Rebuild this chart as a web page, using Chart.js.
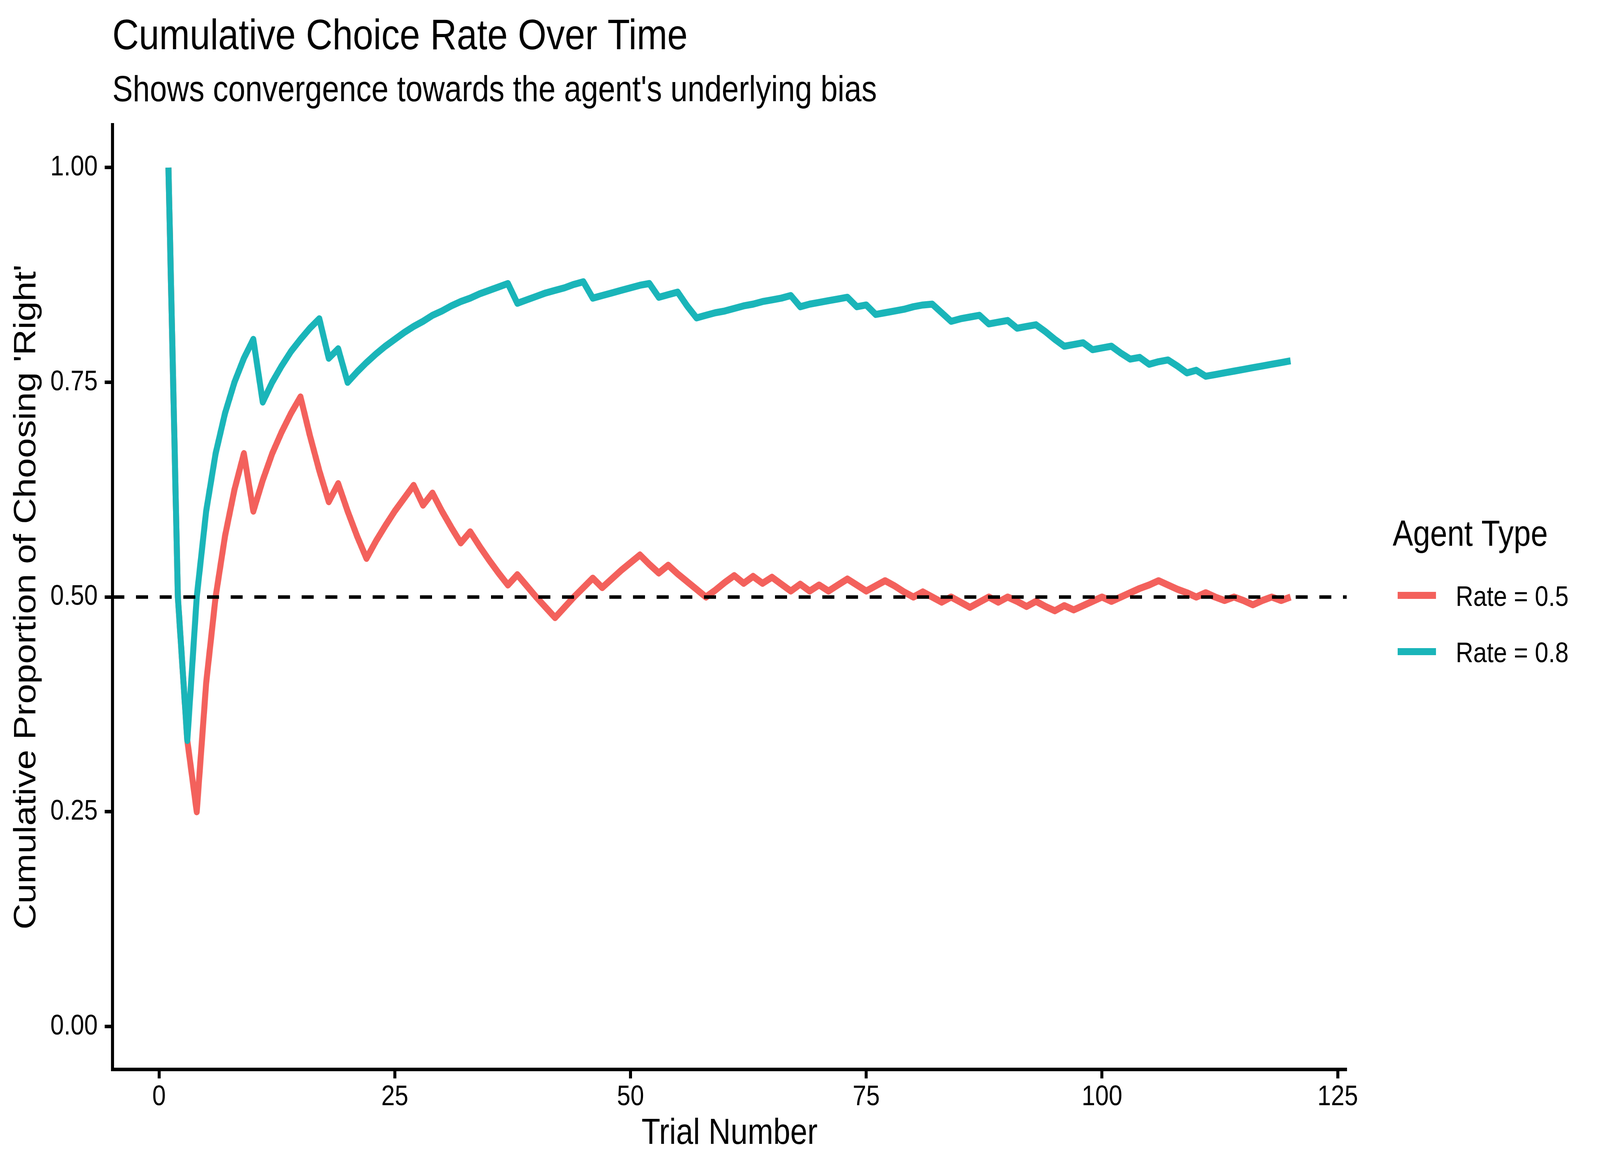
<!DOCTYPE html>
<html>
<head>
<meta charset="utf-8">
<script src="https://cdn.jsdelivr.net/npm/chart.js@4.4.1/dist/chart.umd.min.js"></script>
<style>
  html, body { margin: 0; padding: 0; background: #fff; overflow: hidden; }
  canvas { display: block; }
</style>
</head>
<body>
<!-- drawing buffer stays 4800x3000; the inline size makes it fill the window exactly -->
<canvas id="choiceChart" width="4800" height="3000" style="width:100vw;height:100vh"></canvas>
<script>
// Trial numbers (x axis)
const trials = [
  1, 2, 3, 4, 5, 6, 7, 8, 9, 10, 11, 12, 13, 14, 15, 16, 17, 18, 19, 20,
  21, 22, 23, 24, 25, 26, 27, 28, 29, 30, 31, 32, 33, 34, 35, 36, 37, 38, 39, 40,
  41, 42, 43, 44, 45, 46, 47, 48, 49, 50, 51, 52, 53, 54, 55, 56, 57, 58, 59, 60,
  61, 62, 63, 64, 65, 66, 67, 68, 69, 70, 71, 72, 73, 74, 75, 76, 77, 78, 79, 80,
  81, 82, 83, 84, 85, 86, 87, 88, 89, 90, 91, 92, 93, 94, 95, 96, 97, 98, 99, 100,
  101, 102, 103, 104, 105, 106, 107, 108, 109, 110, 111, 112, 113, 114, 115, 116, 117, 118, 119, 120
];

// Cumulative proportion of 'Right', agent with rate 0.5
const rate05 = [
  1.000, 0.500, 0.333, 0.250, 0.400, 0.500, 0.571, 0.625, 0.667, 0.600,
  0.636, 0.667, 0.692, 0.714, 0.733, 0.688, 0.647, 0.611, 0.632, 0.600,
  0.571, 0.545, 0.565, 0.583, 0.600, 0.615, 0.630, 0.607, 0.621, 0.600,
  0.581, 0.563, 0.576, 0.559, 0.543, 0.528, 0.514, 0.526, 0.513, 0.500,
  0.488, 0.476, 0.488, 0.500, 0.511, 0.522, 0.511, 0.521, 0.531, 0.540,
  0.549, 0.538, 0.528, 0.537, 0.527, 0.518, 0.509, 0.500, 0.508, 0.517,
  0.525, 0.516, 0.524, 0.516, 0.523, 0.515, 0.507, 0.515, 0.507, 0.514,
  0.507, 0.514, 0.521, 0.514, 0.507, 0.513, 0.519, 0.513, 0.506, 0.500,
  0.506, 0.500, 0.494, 0.500, 0.494, 0.488, 0.494, 0.500, 0.494, 0.500,
  0.495, 0.489, 0.495, 0.489, 0.484, 0.490, 0.485, 0.490, 0.495, 0.500,
  0.495, 0.500, 0.505, 0.510, 0.514, 0.519, 0.514, 0.509, 0.505, 0.500,
  0.505, 0.500, 0.496, 0.500, 0.496, 0.491, 0.496, 0.500, 0.496, 0.500
];

// Cumulative proportion of 'Right', agent with rate 0.8
const rate08 = [
  1.000, 0.500, 0.333, 0.500, 0.600, 0.667, 0.714, 0.750, 0.778, 0.800,
  0.727, 0.750, 0.769, 0.786, 0.800, 0.813, 0.824, 0.778, 0.789, 0.750,
  0.762, 0.773, 0.783, 0.792, 0.800, 0.808, 0.815, 0.821, 0.828, 0.833,
  0.839, 0.844, 0.848, 0.853, 0.857, 0.861, 0.865, 0.842, 0.846, 0.850,
  0.854, 0.857, 0.860, 0.864, 0.867, 0.848, 0.851, 0.854, 0.857, 0.860,
  0.863, 0.865, 0.849, 0.852, 0.855, 0.839, 0.825, 0.828, 0.831, 0.833,
  0.836, 0.839, 0.841, 0.844, 0.846, 0.848, 0.851, 0.838, 0.841, 0.843,
  0.845, 0.847, 0.849, 0.838, 0.840, 0.829, 0.831, 0.833, 0.835, 0.838,
  0.840, 0.841, 0.831, 0.821, 0.824, 0.826, 0.828, 0.818, 0.820, 0.822,
  0.813, 0.815, 0.817, 0.809, 0.800, 0.792, 0.794, 0.796, 0.788, 0.790,
  0.792, 0.784, 0.777, 0.779, 0.771, 0.774, 0.776, 0.769, 0.761, 0.764,
  0.757, 0.759, 0.761, 0.763, 0.765, 0.767, 0.769, 0.771, 0.773, 0.775
];

const seriesLabels = ['Rate = 0.5', 'Rate = 0.8'];
const xTicks = [0, 25, 50, 75, 100, 125];
const yTicks = [0, 0.25, 0.5, 0.75, 1];
const referenceLevel = 0.5;

const FONT = "'Liberation Sans', Arial, Helvetica, sans-serif";
const RED = '#F3615C';
const TEAL = '#1AB5B9';

function points(ys) {
  return trials.map((t, i) => ({ x: t, y: ys[i] }));
}

// dashed reference line at the agent's 0.5 level, drawn over the lines
const refLinePlugin = {
  id: 'refLine',
  afterDatasetsDraw(chart) {
    const { ctx, chartArea, scales } = chart;
    const y = scales.y.getPixelForValue(referenceLevel);
    ctx.save();
    ctx.strokeStyle = '#000';
    ctx.lineWidth = 9;
    ctx.setLineDash([36, 35]);
    ctx.beginPath();
    ctx.moveTo(chartArea.left, y);
    ctx.lineTo(chartArea.right, y);
    ctx.stroke();
    ctx.restore();
  }
};

// title, subtitle and ggplot-style legend
const textPlugin = {
  id: 'texts',
  afterDraw(chart) {
    const { ctx, chartArea } = chart;
    ctx.save();
    ctx.fillStyle = '#000';
    ctx.textAlign = 'left';
    ctx.textBaseline = 'alphabetic';

    ctx.font = '110px ' + FONT;
    ctx.fillText('Cumulative Choice Rate Over Time', chartArea.left, 126);
    ctx.font = '92px ' + FONT;
    ctx.fillText("Shows convergence towards the agent's underlying bias", chartArea.left, 259);

    // legend
    ctx.font = '92px ' + FONT;
    ctx.fillText('Agent Type', 4178, 1397);
    const colors = [RED, TEAL];
    const keyY = [1524, 1668];
    const labelY = [1551, 1695];
    seriesLabels.forEach((lab, i) => {
      ctx.strokeStyle = colors[i];
      ctx.lineWidth = 18;
      ctx.lineCap = 'butt';
      ctx.beginPath();
      ctx.moveTo(4193, keyY[i]);
      ctx.lineTo(4308, keyY[i]);
      ctx.stroke();
      ctx.font = '73px ' + FONT;
      ctx.fillText(lab, 4367, labelY[i]);
    });
    ctx.restore();
  }
};

const axisCommon = {
  grid: { display: true, drawOnChartArea: false, drawTicks: true, tickLength: 23, tickWidth: 9, tickColor: '#000' },
  border: { display: true, color: '#000', width: 9 }
};

new Chart(document.getElementById('choiceChart'), {
  type: 'line',
  data: {
    datasets: [
      { label: seriesLabels[1], data: points(rate08), borderColor: TEAL, backgroundColor: TEAL, borderWidth: 18, order: 1 },
      { label: seriesLabels[0], data: points(rate05), borderColor: RED, backgroundColor: RED, borderWidth: 18, order: 2 }
    ]
  },
  options: {
    responsive: false,
    animation: false,
    devicePixelRatio: 1,
    layout: { padding: { top: 319, right: 760, bottom: 0, left: 0 } },
    elements: {
      point: { radius: 0, hoverRadius: 0 },
      line: { tension: 0, borderJoinStyle: 'round', borderCapStyle: 'butt', fill: false }
    },
    plugins: {
      legend: { display: false },
      title: { display: false },
      tooltip: { enabled: false }
    },
    scales: {
      x: {
        type: 'linear',
        min: -4.95,
        max: 125.95,
        ...axisCommon,
        afterFit(s) { s.height = 262.5; },
        afterBuildTicks(s) { s.ticks = xTicks.map(v => ({ value: v })); },
        ticks: { color: '#000', font: { family: FONT, size: 73 }, padding: 5, maxRotation: 0, autoSkip: false },
        title: { display: true, text: 'Trial Number', color: '#000', font: { family: FONT, size: 92 }, padding: { top: 0, bottom: 42 } }
      },
      y: {
        type: 'linear',
        min: -0.05,
        max: 1.05,
        ...axisCommon,
        afterFit(s) { s.width = 337; },
        afterBuildTicks(s) { s.ticks = yTicks.map(v => ({ value: v })); },
        ticks: { color: '#000', font: { family: FONT, size: 73 }, padding: 21, callback: v => Number(v).toFixed(2) },
        title: { display: true, text: "Cumulative Proportion of Choosing 'Right'", color: '#000', font: { family: FONT, size: 92 }, padding: { top: 25, bottom: 0 } }
      }
    }
  },
  plugins: [refLinePlugin, textPlugin]
});
</script>
</body>
</html>
